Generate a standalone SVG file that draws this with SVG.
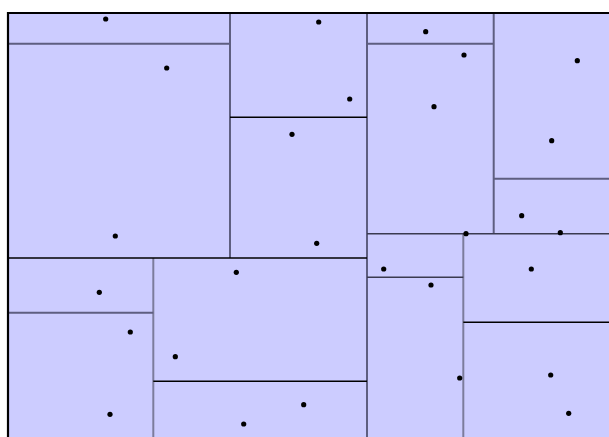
<svg xmlns="http://www.w3.org/2000/svg" width="609" height="437" viewBox="0 0 609 437">
<style>
.g{stroke:#5e5e80;stroke-width:2;fill:none}
.l{stroke:#7c7c9c;stroke-width:2;fill:none}
.d{stroke:#3a3a50;stroke-width:1.6;fill:none}
.k{stroke:#000;stroke-width:1.5;fill:none}
.p{fill:#000}
</style>
<rect x="0" y="0" width="609" height="437" fill="#fff"/>
<rect x="8" y="13" width="620" height="440" fill="#ccccff"/>
<g id="splits">
<line class="g" x1="230" y1="13" x2="230" y2="258"/>
<line class="g" x1="8" y1="43.7" x2="230" y2="43.7"/>
<line class="g" x1="367" y1="13" x2="367" y2="437"/>
<line class="g" x1="367" y1="43.7" x2="493.7" y2="43.7"/>
<line class="g" x1="493.7" y1="13" x2="493.7" y2="233.7"/>
<line class="g" x1="493.7" y1="178.7" x2="609" y2="178.7"/>
<line class="l" x1="153.3" y1="258" x2="153.3" y2="437"/>
<line class="g" x1="8" y1="312.7" x2="153.3" y2="312.7"/>
<line class="l" x1="463.3" y1="233.7" x2="463.3" y2="437"/>
<line class="d" x1="367" y1="233.7" x2="609" y2="233.7"/>
<line class="d" x1="367" y1="277.3" x2="463.3" y2="277.3"/>
<line class="k" x1="230" y1="117.3" x2="367" y2="117.3"/>
<line class="k" x1="8" y1="258" x2="367" y2="258"/>
<line class="k" x1="153.3" y1="381.3" x2="367" y2="381.3"/>
<line class="k" x1="463.3" y1="322.3" x2="609" y2="322.3"/>
</g>
<path d="M8,437 V13 H609" stroke="#000" stroke-width="2.2" fill="none"/>
<g id="points">
<circle class="p" cx="105.7" cy="19" r="2.6"/>
<circle class="p" cx="166.7" cy="68" r="2.6"/>
<circle class="p" cx="318.7" cy="22" r="2.6"/>
<circle class="p" cx="349.7" cy="99" r="2.6"/>
<circle class="p" cx="292" cy="134.3" r="2.6"/>
<circle class="p" cx="425.7" cy="31.7" r="2.6"/>
<circle class="p" cx="464" cy="55" r="2.6"/>
<circle class="p" cx="434" cy="106.7" r="2.6"/>
<circle class="p" cx="577.3" cy="60.7" r="2.6"/>
<circle class="p" cx="551.7" cy="140.7" r="2.6"/>
<circle class="p" cx="115.3" cy="236" r="2.6"/>
<circle class="p" cx="236.3" cy="272.3" r="2.6"/>
<circle class="p" cx="316.7" cy="243.3" r="2.6"/>
<circle class="p" cx="383.7" cy="269" r="2.6"/>
<circle class="p" cx="521.7" cy="215.7" r="2.6"/>
<circle class="p" cx="466" cy="233.7" r="2.6"/>
<circle class="p" cx="560.3" cy="232.7" r="2.6"/>
<circle class="p" cx="531.3" cy="269" r="2.6"/>
<circle class="p" cx="431" cy="285" r="2.6"/>
<circle class="p" cx="99.3" cy="292.3" r="2.6"/>
<circle class="p" cx="130.3" cy="332" r="2.6"/>
<circle class="p" cx="175.3" cy="356.7" r="2.6"/>
<circle class="p" cx="110" cy="414.3" r="2.6"/>
<circle class="p" cx="243.7" cy="424" r="2.6"/>
<circle class="p" cx="303.7" cy="404.7" r="2.6"/>
<circle class="p" cx="459.7" cy="378" r="2.6"/>
<circle class="p" cx="550.7" cy="375" r="2.6"/>
<circle class="p" cx="568.7" cy="413.3" r="2.6"/>
</g>
</svg>
